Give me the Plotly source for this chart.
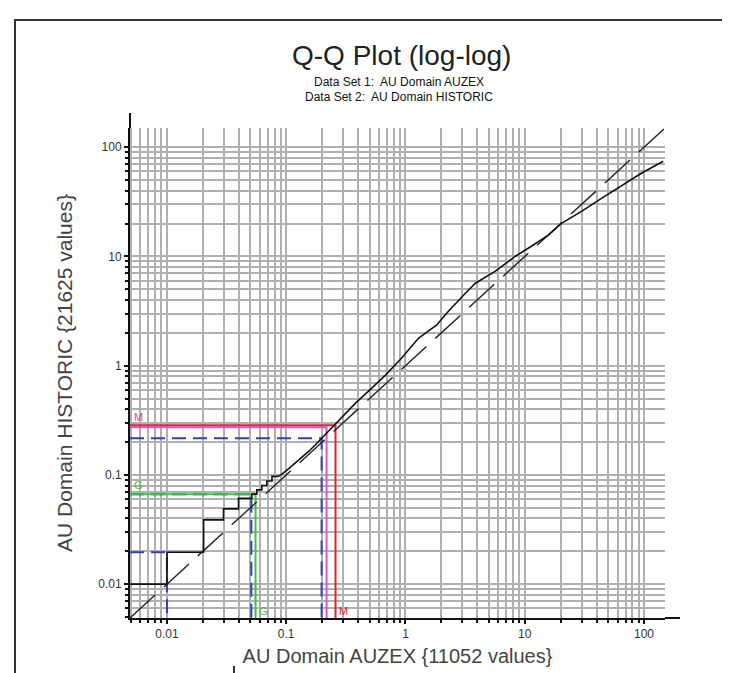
import math
import plotly.graph_objects as go

# ---------------- data ----------------
axis_min = 0.0049
axis_max = 150.0

# stepped (low-value) part of the Q-Q curve
step_x = [0.0049, 0.01, 0.0203, 0.0298, 0.0398, 0.0515, 0.0567, 0.0625, 0.0688, 0.076, 0.086]
step_y = [0.01, 0.0196, 0.0388, 0.0489, 0.061, 0.0667, 0.073, 0.080, 0.088, 0.097, 0.0975]

# continuous part of the Q-Q curve
qq_x = [0.086, 0.092, 0.105, 0.119, 0.135, 0.154, 0.175, 0.199, 0.225, 0.257, 0.30, 0.381, 0.49,
        0.68, 0.925, 1.29, 1.82, 2.29, 3.18, 3.86, 5.68, 8.36, 10.7, 15.8, 20.3, 29.9, 44.0,
        64.6, 95.0, 145.0]
qq_y = [0.0975, 0.1016, 0.114, 0.128, 0.144, 0.164, 0.188, 0.217, 0.25, 0.292, 0.35, 0.454, 0.585,
        0.82, 1.17, 1.79, 2.35, 3.15, 4.61, 5.69, 7.33, 10.05, 11.9, 15.7, 20.1, 25.9, 34.0,
        44.0, 57.8, 74.5]

# reference (1:1) line
ref_vals = [0.0049, 150.0]

# quantile marker lines: (x value, y value)
red_q = (0.259, 0.285)
pink_q = (0.218, 0.273)
green_q = (0.0553, 0.0667)
blue_q = [(0.198, 0.217), (0.051, 0.0667), (0.01, 0.0196)]

tick_vals = [0.01, 0.1, 1, 10, 100]
tick_text = ["0.01", "0.1", "1", "10", "100"]
minor_vals = [m * 10 ** e for e in range(-3, 3) for m in range(1, 10)
              if axis_min <= m * 10 ** e <= axis_max and m != 1]

title_text = "Q-Q Plot (log-log)"
sub1 = "Data Set 1:  AU Domain AUZEX"
sub2 = "Data Set 2:  AU Domain HISTORIC"
x_title = "AU Domain AUZEX {11052 values}"
y_title = "AU Domain HISTORIC {21625 values}"

# ---------------- figure ----------------
W, H = 730, 673
L, R, T, B = 122, 73, 120, 63
pw, ph = W - L - R, H - T - B

def px_x(p):
    return (p - L) / pw

def px_y(p):
    return (H - B - p) / ph

fig = go.Figure()

def corner(q, color, dash, width=2):
    x, y = q
    fig.add_trace(go.Scatter(x=[axis_min, x, x], y=[y, y, axis_min], mode="lines",
                             line=dict(color=color, width=width, dash=dash),
                             hoverinfo="skip", showlegend=False))

for q in blue_q:
    corner(q, "#3240b0", "14px,7px")
corner(green_q, "#3cc33c", "solid")
corner(pink_q, "#d25ad2", "solid")
corner(red_q, "#e8202a", "solid")

fig.add_trace(go.Scatter(x=ref_vals, y=ref_vals, mode="lines",
                         line=dict(color="#222222", width=1.4, dash="34px,12px"),
                         hoverinfo="skip", showlegend=False))
fig.add_trace(go.Scatter(x=step_x, y=step_y, mode="lines", line_shape="hv",
                         line=dict(color="#111111", width=1.6),
                         hoverinfo="skip", showlegend=False))
fig.add_trace(go.Scatter(x=qq_x, y=qq_y, mode="lines",
                         line=dict(color="#111111", width=1.6),
                         hoverinfo="skip", showlegend=False))

axis_common = dict(
    type="log",
    range=[math.log10(axis_min), math.log10(axis_max)],
    tickmode="array", tickvals=tick_vals, ticktext=tick_text,
    ticks="outside", ticklen=4, tickwidth=1.5, tickcolor="#111",
    showgrid=True, gridcolor="#b0b0b0", gridwidth=1.7,
    showline=True, linecolor="#111", linewidth=2,
    zeroline=False,
    tickfont=dict(family="Liberation Sans", size=12, color="#333"),
    minor=dict(tickmode="array", tickvals=minor_vals, ticks="outside", ticklen=3,
               tickcolor="#111", showgrid=True, gridcolor="#b0b0b0", gridwidth=1.7),
    fixedrange=True,
)

fig.update_xaxes(**axis_common,
                 title=dict(text=x_title, standoff=9,
                            font=dict(family="Liberation Sans", size=20, color="#444")))
fig.update_yaxes(**axis_common,
                 title=dict(text=y_title, standoff=20,
                            font=dict(family="Liberation Sans", size=21, color="#444")))

shapes = [
    # outer frame
    dict(type="rect", xref="paper", yref="paper", x0=px_x(7), x1=px_x(724), y0=px_y(720), y1=px_y(12),
         line=dict(color="#333", width=2), layer="below"),
    # axis line extensions
    dict(type="line", xref="paper", yref="paper", x0=1, x1=px_x(672), y0=0, y1=0,
         line=dict(color="#111", width=2)),
    dict(type="line", xref="paper", yref="paper", x0=0, x1=0, y0=1, y1=px_y(105),
         line=dict(color="#111", width=2)),
    # small stub at bottom
    dict(type="line", xref="paper", yref="paper", x0=px_x(226), x1=px_x(226), y0=px_y(658), y1=px_y(680),
         line=dict(color="#333", width=2)),
]

annotations = [
    dict(text=title_text, x=px_x(393), y=px_y(47), xref="paper", yref="paper", showarrow=False,
         xanchor="center", yanchor="middle",
         font=dict(family="Liberation Sans", size=28, color="#222")),
    dict(text=sub1, x=px_x(391), y=px_y(74), xref="paper", yref="paper", showarrow=False,
         xanchor="center", yanchor="middle",
         font=dict(family="Liberation Sans", size=12, color="#111")),
    dict(text=sub2, x=px_x(391), y=px_y(89), xref="paper", yref="paper", showarrow=False,
         xanchor="center", yanchor="middle",
         font=dict(family="Liberation Sans", size=12, color="#111")),
]

def label(txt, x, y, color, xanchor="left", yanchor="bottom", xshift=0, yshift=0):
    annotations.append(dict(text=txt, x=math.log10(x), y=math.log10(y), xref="x", yref="y",
                            showarrow=False, xanchor=xanchor, yanchor=yanchor,
                            xshift=xshift, yshift=yshift,
                            font=dict(family="Liberation Sans", size=11, color=color)))

label("M", axis_min, red_q[1], "#e85080", xshift=2, yshift=0)
label("G", axis_min, green_q[1], "#3cc33c", xshift=2, yshift=1)
label("M", red_q[0], axis_min, "#e8202a", xshift=1, yshift=-1)
label("G", green_q[0], axis_min, "#3cc33c", xshift=1, yshift=-1)

fig.update_layout(
    width=W, height=H,
    margin=dict(l=L, r=R, t=T, b=B, pad=0),
    paper_bgcolor="white", plot_bgcolor="white",
    shapes=shapes, annotations=annotations,
    showlegend=False,
)

fig.write_html("out.html")
